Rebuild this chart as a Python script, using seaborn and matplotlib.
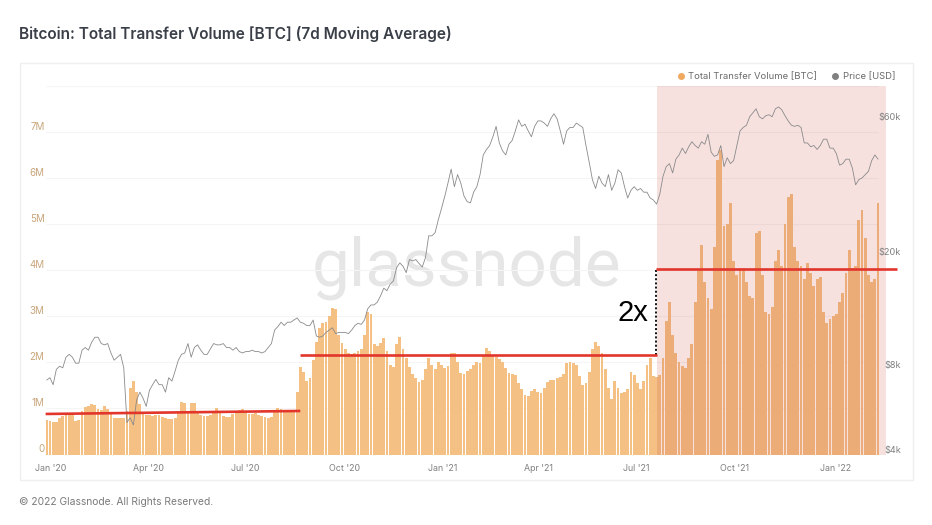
"""Bitcoin total transfer volume (7d MA) with price overlay, glassnode style."""

import matplotlib.pyplot as plt
import pandas as pd
import seaborn as sns
from matplotlib.lines import Line2D
from matplotlib.patches import Rectangle

W, H = 932, 525

# BTC, millions, one value every 3 days starting 4 days before 1 Jan 2020
volume = [
    .74, .72, .70, .70, .80, .84, .85, .87, .88, .72, .74, .95, 1.04, 1.06, 1.10, 1.08, .98, .97, 1.06, .98,
    .88, .80, .80, .79, .80, .95, 1.45, 1.60, 1.35, 1.10, .92, .86, .86, .84, .86, .86, .82, .80, .78, .78,
    .80, .90, 1.14, 1.12, .92, 1.12, 1.12, .90, .86, .84, .84, .85, .92, 1.02, .94, .84, .82, .82, .88, .90,
    .96, .98, .92, .88, .88, .90, .86, .84, .82, .80, .82, .92, 1.0, .98, .94, .92, .92, .92, 1.35, 1.90,
    1.80, 1.60, 1.65, 2.05, 2.45, 2.75, 2.85, 2.88, 3.00, 3.17, 3.15, 2.6, 2.42, 2.3, 2.2, 2.18, 2.2, 2.25, 2.3, 2.6,
    3.1, 3.05, 2.4, 2.35, 2.42, 2.52, 2.25, 1.95, 1.9, 2.4, 2.55, 2.3, 2.1, 1.9, 1.75, 1.65, 1.58, 1.62, 1.85, 2.1,
    1.95, 1.85, 2.0, 1.95, 1.88, 1.92, 2.2, 2.2, 2.0, 1.78, 1.75, 1.82, 1.85, 1.95, 2.0, 1.98, 2.15, 2.32, 2.25, 2.15,
    2.12, 2.08, 2.0, 1.88, 1.78, 1.75, 1.72, 1.55, 1.42, 1.3, 1.27, 1.38, 1.43, 1.36, 1.33, 1.45, 1.58, 1.62, 1.62, 1.65,
    1.68, 1.75, 1.98, 2.0, 1.98, 1.95, 1.7, 1.5, 1.55, 1.8, 2.3, 2.45, 2.35, 2.2, 1.85, 1.45, 1.2, 1.6, 1.45, 1.33,
    1.36, 1.42, 1.8, 1.72, 1.55, 1.43, 1.6, 1.95, 2.09, 1.7, 1.68, 1.72, 2.1, 2.9, 3.3, 2.6, 2.2, 2.0, 1.92, 1.87,
    2.1, 2.4, 3.3, 4.0, 4.55, 3.75, 3.4, 3.15, 4.5, 6.4, 6.6, 4.95, 5.0, 5.45, 4.2, 3.9, 4.05, 4.05, 3.75, 3.45,
    3.4, 4.8, 4.85, 3.9, 3.1, 3.05, 3.2, 4.2, 4.45, 4.1, 5.0, 5.6, 5.65, 4.5, 4.2, 4.1, 3.8, 4.15, 3.95, 3.65,
    3.8, 3.85, 3.1, 2.85, 2.95, 3.0, 3.05, 3.3, 3.5, 3.95, 4.45, 4.05, 4.1, 5.1, 5.3, 4.7, 3.9, 3.75, 3.8, 5.45,
]

# USD, thousands, same dates
price = [
    7.06, 7.2, 6.8, 7.7, 7.9, 7.8, 8.5, 8.7, 8.5, 8.1, 8.1, 9.0, 9.2, 9.0, 9.6, 10.0, 10.0, 9.5, 9.4, 9.5,
    8.8, 8.3, 8.5, 8.7, 7.8, 5.0, 5.2, 4.9, 6.0, 6.4, 6.1, 5.7, 6.5, 6.8, 7.1, 6.8, 6.8, 6.4, 7.2, 7.0,
    7.6, 8.3, 8.7, 8.8, 9.5, 8.5, 9.2, 9.4, 9.0, 8.7, 8.7, 9.1, 9.5, 9.4, 9.4, 9.5, 9.2, 9.2, 9.0, 9.2,
    8.9, 8.8, 8.9, 8.9, 9.0, 8.9, 8.9, 8.8, 8.9, 9.2, 9.5, 10.6, 10.9, 11.3, 11.0, 11.3, 11.3, 11.5, 11.7, 11.3,
    11.2, 11.0, 11.0, 11.5, 10.1, 10.0, 10.1, 10.4, 10.6, 10.8, 10.3, 10.4, 10.4, 10.4, 10.3, 10.6, 11.0, 11.2, 11.1, 11.5,
    12.6, 13.0, 13.0, 13.3, 14.0, 14.9, 14.6, 15.4, 15.8, 17.6, 18.3, 17.8, 16.9, 18.8, 18.6, 18.8, 18.2, 17.7, 19.1, 22.8,
    22.8, 23.4, 26.0, 28.5, 31.4, 35.0, 39.2, 34.0, 37.5, 35.0, 31.5, 30.1, 29.8, 32.5, 34.0, 37.5, 44.0, 46.0, 47.5, 51.0,
    55.5, 48.5, 45.5, 44.0, 48.0, 49.5, 53.5, 58.5, 55.5, 56.5, 53.5, 51.0, 55.5, 58.0, 58.0, 57.0, 55.5, 59.0, 61.5, 59.0,
    53.5, 48.0, 53.5, 55.0, 55.0, 57.0, 56.0, 55.0, 47.5, 41.5, 36.0, 33.5, 37.0, 35.0, 34.0, 37.5, 33.0, 35.0, 39.0, 38.0,
    34.0, 31.0, 33.0, 34.0, 33.0, 33.5, 32.5, 32.5, 31.0, 30.5, 29.5, 32.0, 37.0, 40.0, 41.0, 38.0, 42.5, 44.0, 46.5, 44.5,
    47.0, 49.0, 47.5, 46.5, 49.0, 48.0, 52.0, 45.0, 43.5, 44.0, 47.5, 40.0, 43.0, 41.0, 42.0, 47.5, 53.5, 55.0, 56.0, 60.0,
    62.0, 64.0, 60.0, 59.0, 60.5, 61.0, 60.0, 64.0, 65.0, 63.5, 60.5, 58.0, 56.0, 55.5, 56.0, 55.0, 48.5, 48.5, 47.0, 47.5,
    46.0, 47.5, 50.0, 50.0, 46.5, 46.5, 44.5, 40.5, 41.0, 42.5, 42.5, 39.5, 34.5, 36.0, 36.5, 37.5, 38.5, 42.0, 44.0, 42.5,
]

x_tick_days = [0, 91, 182, 274, 366, 456, 547, 639, 733]
x_tick_labels = ["Jan '20", "Apr '20", "Jul '20", "Oct '20", "Jan '21", "Apr '21", "Jul '21", "Oct '21", "Jan '22"]
vol_ticks = [0, 1, 2, 3, 4, 5, 6, 7]
vol_tick_labels = ["0", "1M", "2M", "3M", "4M", "5M", "6M", "7M"]
price_ticks = [4, 8, 20, 60]
price_tick_labels = ["$4k", "$8k", "$20k", "$60k"]

# hand-drawn annotation levels: (start day, end day, start level, end level)
levels = [(-5, 233, 0.88, 0.945), (233, 566, 2.16, 2.16), (565, 791, 4.03, 4.03)]
highlight_start = 566

ORANGE = "#f4c083"
TICK_TAN = "#c9a67c"
GREY = "#808080"

sns.set_theme(style="white")
plt.rcParams["font.family"] = ["Inter", "DejaVu Sans"]

df = pd.DataFrame({"volume": volume, "price": price})
df["day"] = -4 + 3 * df.index

fig = plt.figure(figsize=(W / 100, H / 100), dpi=100, facecolor="white")
ax = fig.add_axes([46 / W, 1 - 454.5 / H, 840 / W, 368.5 / H])
ax.patch.set_alpha(0)

sns.barplot(data=df, x="day", y="volume", native_scale=True, color=ORANGE, saturation=1,
            width=0.88, linewidth=0, ax=ax, zorder=2)
ax.hlines(vol_ticks[1:] + [8], -5, 773, color="#f5f5f5", lw=0.8, zorder=1)
ax.axvspan(highlight_start, 780.4, color="#c8463c", alpha=0.16, lw=0, zorder=3)

ax.set_xlim(-4.67, 780.4)
ax.set_ylim(0, 8)
ax.set_xlabel("")
ax.set_ylabel("")
ax.set_xticks(x_tick_days, x_tick_labels)
ax.set_yticks(vol_ticks, vol_tick_labels)
ax.tick_params(axis="x", length=0, pad=7, labelsize=6.4, labelcolor=GREY)
ax.tick_params(axis="y", length=0, pad=1, labelsize=7, labelcolor=TICK_TAN)
for label in ax.get_yticklabels():
    label.set_va("bottom")
sns.despine(ax=ax, left=True, bottom=True)

ax2 = ax.twinx()
sns.lineplot(data=df, x="day", y="price", color="#8a8a8a", lw=0.6, legend=False, ax=ax2, zorder=4)
ax2.set_yscale("log")
ax2.set_ylim(3.856, 77.04)
ax2.set_xlim(-4.67, 780.4)
ax2.set_ylabel("")
ax2.set_yticks(price_ticks, price_tick_labels)
ax2.minorticks_off()
ax2.tick_params(axis="y", length=0, pad=11, labelsize=6.6, labelcolor=GREY)
for label in ax2.get_yticklabels():
    label.set_ha("right")
sns.despine(ax=ax2, left=True, bottom=True, right=True)

# red level lines and the dotted 2x gap go on the volume scale
to_ax2 = lambda v: ax2.transData.inverted().transform(ax.transData.transform((0, v)))[1]
for d0, d1, v0, v1 in levels:
    ax2.plot([d0, d1], [to_ax2(v0), to_ax2(v1)], color="#e2352c", lw=1.9, clip_on=False, zorder=6,
             solid_capstyle="butt")
ax2.plot([highlight_start - 1] * 2, [to_ax2(levels[1][3]), to_ax2(levels[2][2])], color="black", lw=1.3,
         ls=(0, (1.1, 1.2)), zorder=5)

fig.text(633 / W, 1 - 313 / H, "2x", fontsize=21, color="black", family=["Liberation Sans"],
         ha="center", va="center", zorder=10)
fig.text(466.5 / W, 1 - 268 / H, "glassnode", fontsize=48.5, color="#e6e6e6", family=["Roboto"],
         ha="center", va="center", zorder=-1)

# card outline behind everything
fig.add_artist(Rectangle((20 / W, 1 - 480 / H), 893 / W, 417 / H, transform=fig.transFigure,
                         fill=False, edgecolor="#efefef", lw=1, zorder=-2))

handles = [
    Line2D([], [], ls="", marker="o", ms=4, color="#f0a95f", label="Total Transfer Volume [BTC]"),
    Line2D([], [], ls="", marker="o", ms=4, color="#808080", label="Price [USD]"),
]
fig.legend(handles=handles, loc="center right", bbox_to_anchor=(900 / W, 1 - 77 / H), ncol=2, frameon=False,
           fontsize=6.8, labelcolor="#6b6b6b", handletextpad=-0.2, columnspacing=0.9, borderpad=0)

fig.text(19 / W, 1 - 34 / H, "Bitcoin: Total Transfer Volume [BTC] (7d Moving Average)", fontsize=11.1,
         fontweight="semibold", color="#3a3f48", va="center")
fig.text(19 / W, 1 - 502 / H, "© 2022 Glassnode. All Rights Reserved.", fontsize=7.4, color="#7a7a7a", va="center")

fig.savefig("out.png", dpi=100)
plt.close(fig)
